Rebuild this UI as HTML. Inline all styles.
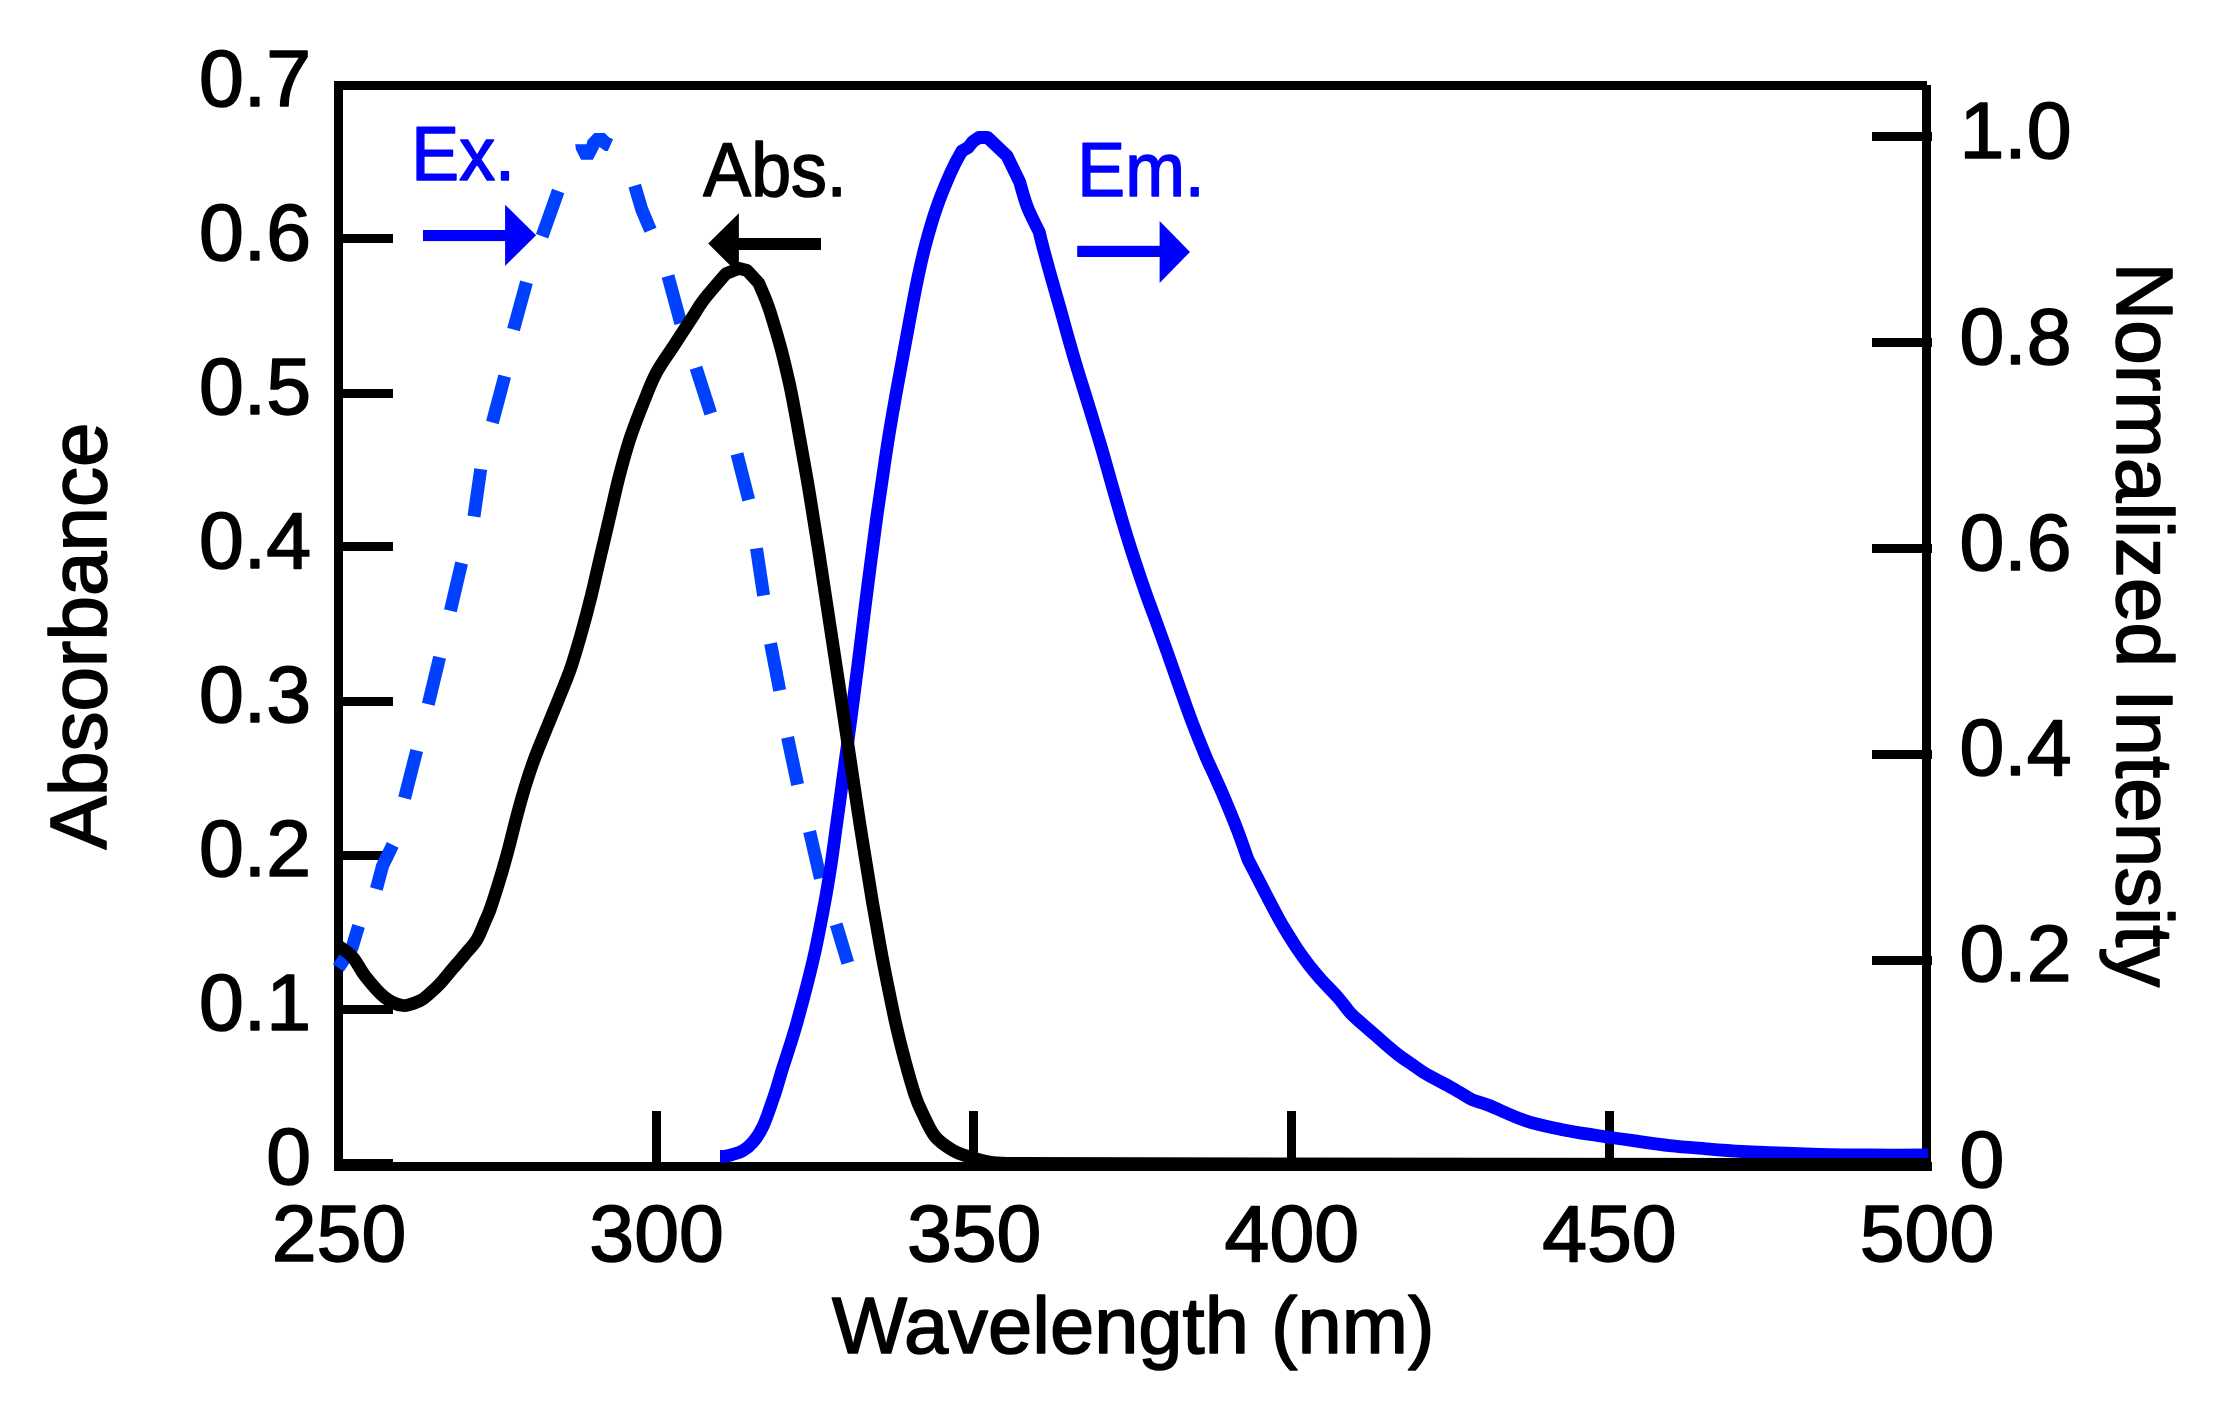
<!DOCTYPE html>
<html><head><meta charset="utf-8"><title>Absorbance / Excitation / Emission spectra</title>
<style>html,body{margin:0;padding:0;background:#fff}svg{display:block}text{font-family:"Liberation Sans",sans-serif}</style>
</head><body>
<svg width="2214" height="1403" viewBox="0 0 2214 1403">
<rect width="2214" height="1403" fill="#fff"/>
<g fill="#000" shape-rendering="crispEdges">
<rect x="334" y="81" width="1593" height="9"/>
<rect x="334" y="81" width="9" height="1090"/>
<rect x="1922" y="85" width="9" height="1086"/>
<rect x="334" y="1162" width="1598" height="9"/>
<rect x="334" y="1159" width="59" height="9"/>
<rect x="334" y="1005" width="59" height="9"/>
<rect x="334" y="851" width="59" height="9"/>
<rect x="334" y="697" width="59" height="9"/>
<rect x="334" y="542" width="59" height="9"/>
<rect x="334" y="389" width="59" height="9"/>
<rect x="334" y="234" width="59" height="9"/>
<rect x="1872" y="956" width="60" height="9"/>
<rect x="1872" y="750" width="60" height="9"/>
<rect x="1872" y="544" width="60" height="9"/>
<rect x="1872" y="338" width="60" height="9"/>
<rect x="1872" y="132" width="60" height="9"/>
<rect x="652" y="1111" width="9" height="55"/>
<rect x="969" y="1111" width="9" height="55"/>
<rect x="1287" y="1111" width="9" height="55"/>
<rect x="1605" y="1111" width="9" height="55"/>
</g>
<g fill="none" stroke="#0040ff" stroke-width="13.0" stroke-linejoin="round">
<path d="M358.6 925.8L352.1 947.5L338.3 967.8"/>
<path d="M392.7 844.9L382.5 866.0L376.4 889.0"/>
<path d="M416.7 750.5L404.6 798.1"/>
<path d="M439.6 657.2L428.3 704.3"/>
<path d="M461.6 563.1L450.4 610.7"/>
<path d="M480.7 469.1L474.0 516.5"/>
<path d="M504.7 376.2L492.4 422.5"/>
<path d="M526.5 282.2L513.5 329.6"/>
<path d="M558.2 191.0L542.1 236.2"/>
<path d="M634.7 185.6L641.8 209.6L650.5 230.2"/>
<path d="M668.0 276.0L680.8 323.2"/>
<path d="M696.0 367.8L710.7 413.5"/>
<path d="M737.0 453.9L748.7 499.9"/>
<path d="M756.5 548.4L763.6 595.5"/>
<path d="M770.6 643.5L779.7 690.6"/>
<path d="M787.6 737.4L797.6 784.6"/>
<path d="M809.6 831.5L820.4 878.4"/>
<path d="M836.2 924.4L847.8 962.8"/>
</g>
<polygon fill="#0040ff" points="575.2,144.2 586.5,144.2 587.5,140.3 594.4,133.1 604.7,133.1 609.2,137.6 613.1,139.2 607.8,150.9 605.1,150.9 599.5,146.9 592.9,159.8 581.1,159.8 576.0,149.8"/>
<path d="M720.0 1156.4C721.0 1156.4 724.0 1156.4 726.0 1156.1C728.0 1155.8 729.3 1155.5 732.1 1154.6C734.9 1153.7 739.2 1152.9 742.8 1150.8C746.3 1148.7 750.0 1145.8 753.4 1141.7C756.8 1137.6 759.5 1134.1 763.1 1126.2C766.7 1118.3 771.8 1103.0 774.8 1094.1C777.8 1085.2 779.0 1079.9 781.2 1072.8C783.4 1065.7 785.5 1059.8 788.1 1051.4C790.8 1043.0 793.9 1033.3 797.0 1022.4C800.0 1011.5 803.6 998.2 806.7 986.2C809.8 974.1 812.3 964.2 815.4 950.0C818.4 935.8 822.4 915.2 825.0 901.1C827.6 886.9 829.1 877.0 831.0 864.9C832.8 852.9 834.4 840.7 836.0 828.6C837.7 816.5 839.4 804.5 841.0 792.4C842.6 780.4 844.2 768.3 845.8 756.2C847.5 744.1 848.7 735.9 850.8 720.0C852.9 704.1 855.6 683.0 858.4 661.1C861.1 639.2 864.3 612.8 867.4 588.6C870.5 564.5 873.9 538.1 876.9 516.2C880.0 494.3 883.1 473.1 885.5 457.3C887.9 441.4 889.2 433.2 891.3 421.1C893.3 409.1 895.5 397.0 897.7 384.9C899.9 372.8 902.2 360.6 904.4 348.6C906.7 336.5 908.8 324.5 911.1 312.4C913.4 300.4 915.8 287.4 918.2 276.2C920.6 264.9 922.5 256.1 925.5 244.9C928.5 233.6 932.1 220.7 936.3 208.6C940.5 196.5 946.5 182.0 950.8 172.4C955.0 162.8 961.8 151.1 961.8 151.1L968.3 147.4L973.1 141.3L979.0 137.5L987.6 137.5L1007.0 155.9L1019.7 182.0C1019.7 182.0 1024.3 198.7 1026.6 205.0C1028.8 211.3 1031.1 215.4 1033.2 219.9C1035.3 224.4 1039.2 231.9 1039.2 231.9C1039.2 231.9 1041.6 241.9 1043.7 249.9C1045.8 257.9 1049.1 269.8 1051.9 279.8C1054.7 289.8 1057.7 299.7 1060.5 309.7C1063.3 319.7 1065.9 329.8 1068.8 339.7C1071.6 349.7 1073.8 357.4 1077.5 369.5C1081.2 381.6 1086.8 399.3 1090.8 412.5C1094.8 425.7 1098.1 436.6 1101.7 448.6C1105.2 460.7 1108.5 472.7 1111.9 484.8C1115.4 496.9 1118.8 509.1 1122.4 521.2C1126.0 533.2 1129.7 545.2 1133.6 557.3C1137.6 569.3 1142.4 583.6 1145.9 593.5C1149.3 603.3 1150.7 606.4 1154.2 616.2C1157.8 626.1 1163.0 640.4 1167.3 652.4C1171.6 664.5 1175.7 676.6 1180.0 688.6C1184.3 700.7 1188.7 713.3 1193.1 724.8C1197.5 736.4 1203.3 750.4 1206.4 757.9C1209.6 765.5 1208.8 763.0 1211.9 770.0C1215.1 777.0 1221.0 789.9 1225.2 799.9C1229.4 809.9 1233.6 819.9 1237.4 829.9C1241.2 839.9 1248.1 859.8 1248.1 859.8C1248.1 859.8 1258.4 879.7 1263.6 889.7C1268.8 899.7 1275.3 912.2 1279.4 919.7C1283.5 927.2 1285.3 929.8 1288.2 934.6C1291.2 939.4 1293.6 943.5 1297.0 948.5C1300.4 953.5 1304.6 959.4 1308.6 964.6C1312.6 969.7 1316.0 973.9 1321.0 979.5C1326.0 985.1 1333.6 992.5 1338.5 998.1C1343.4 1003.7 1346.6 1008.9 1350.6 1013.3C1354.6 1017.6 1358.7 1020.6 1362.7 1024.2C1366.7 1027.8 1370.7 1031.1 1374.8 1034.7C1378.9 1038.3 1383.2 1042.2 1387.2 1045.6C1391.2 1049.0 1394.7 1052.0 1398.7 1055.1C1402.7 1058.1 1407.3 1061.2 1411.4 1064.0C1415.4 1066.8 1419.0 1069.5 1423.1 1072.1C1427.1 1074.6 1431.5 1077.0 1435.6 1079.2C1439.7 1081.4 1443.5 1083.2 1447.5 1085.4C1451.5 1087.6 1455.6 1090.0 1459.6 1092.3C1463.6 1094.6 1466.9 1097.3 1471.7 1099.5C1476.5 1101.7 1479.7 1101.8 1488.6 1105.3C1497.5 1108.8 1512.8 1116.5 1524.9 1120.5C1537.0 1124.5 1549.0 1126.9 1561.1 1129.4C1573.2 1131.9 1585.2 1133.6 1597.3 1135.5C1609.4 1137.4 1621.5 1139.1 1633.5 1140.7C1645.6 1142.4 1657.6 1144.2 1669.6 1145.6C1681.7 1146.9 1693.9 1147.8 1706.0 1148.8C1718.1 1149.8 1730.1 1150.8 1742.1 1151.5C1754.2 1152.2 1765.5 1152.4 1778.4 1152.9C1791.4 1153.3 1804.7 1153.9 1820.0 1154.3C1835.3 1154.7 1852.0 1154.9 1870.0 1155.0C1888.0 1155.1 1918.3 1155.0 1928.0 1155.0" fill="none" stroke="#0000ff" stroke-width="12.8" stroke-linejoin="round"/>
<path d="M338.0 945.6C340.5 947.6 348.4 952.3 352.9 957.4C357.4 962.5 359.8 969.3 365.1 976.0C370.4 982.7 378.4 992.5 384.7 997.4C391.0 1002.3 396.9 1004.9 402.8 1005.5C408.7 1006.1 415.5 1002.6 419.8 1000.8C424.1 999.0 425.1 997.4 428.5 994.5C431.9 991.6 436.2 987.8 440.2 983.5C444.2 979.2 448.6 973.5 452.7 968.7C456.8 963.9 460.8 959.4 464.8 954.5C468.8 949.6 473.5 945.2 476.9 939.6C480.3 934.0 483.2 925.6 485.4 920.6C487.6 915.6 487.7 916.3 490.1 909.5C492.5 902.7 496.7 889.7 499.7 879.7C502.8 869.7 505.6 859.6 508.3 849.6C511.0 839.6 513.3 829.6 515.9 819.7C518.5 809.7 521.1 800.0 524.1 790.0C527.1 780.0 530.4 769.7 534.1 759.7C537.7 749.7 541.9 740.1 545.9 730.2C550.0 720.2 554.2 710.1 558.3 699.8C562.4 689.6 566.7 679.9 570.6 668.7C574.4 657.4 578.1 644.3 581.6 632.3C585.0 620.2 588.1 608.4 591.1 596.4C594.1 584.3 596.3 574.1 599.6 559.9C603.0 545.7 607.7 525.3 611.0 511.2C614.3 497.0 616.4 487.0 619.6 474.9C622.8 462.8 626.0 450.7 630.0 438.6C634.0 426.5 639.2 413.3 643.6 402.4C648.0 391.5 651.1 382.7 656.2 373.1C661.3 363.5 668.3 354.3 674.3 345.0C680.3 335.7 687.5 324.8 692.4 317.3C697.2 309.9 697.8 307.6 703.4 300.3C709.0 293.0 726.0 273.6 726.0 273.6L739.1 268.4L747.1 270.5L758.7 283.0C758.7 283.0 764.1 295.4 766.0 300.3C767.9 305.2 767.8 304.4 770.3 312.4C772.8 320.4 777.7 336.5 781.0 348.6C784.2 360.7 787.0 372.9 789.7 384.9C792.3 397.0 794.4 409.0 796.7 421.1C798.9 433.1 801.0 445.2 803.2 457.3C805.3 469.3 806.9 477.7 809.5 493.6C812.1 509.4 815.5 530.5 818.9 552.4C822.3 574.3 826.2 600.7 829.9 624.9C833.6 649.0 837.6 675.4 840.9 697.3C844.2 719.2 846.4 734.3 849.7 756.2C853.0 778.1 856.8 804.5 860.6 828.6C864.4 852.7 869.0 880.8 872.3 901.1C875.7 921.3 878.3 935.9 880.9 950.0C883.5 964.2 885.5 974.1 887.9 986.1C890.4 998.2 892.8 1010.4 895.5 1022.5C898.3 1034.6 901.1 1046.5 904.4 1058.5C907.6 1070.6 911.9 1085.8 914.9 1094.9C917.9 1104.0 919.0 1106.0 922.4 1113.0C925.8 1120.0 930.2 1130.6 935.4 1136.9C940.6 1143.2 948.1 1147.5 953.5 1150.8C958.9 1154.0 962.0 1154.5 968.0 1156.4C974.0 1158.3 982.7 1160.9 989.7 1162.1C996.7 1163.3 1006.6 1163.3 1010.0 1163.5L1929 1164.5" fill="none" stroke="#000" stroke-width="12.8" stroke-linejoin="round"/>
<g fill="#0000ff"><rect x="423" y="230" width="84" height="11.1"/><polygon points="505.1,204.7 505.1,265.9 536.1,235.3"/>
<rect x="1077.2" y="245.8" width="84" height="11.2"/><polygon points="1159.6,221 1159.6,282.9 1190,251.9"/></g>
<g fill="#000"><rect x="737" y="238" width="84" height="12"/><polygon points="738.9,213.2 738.9,274 708.2,243.6"/></g>
<g font-size="80.6" fill="#000" stroke="#000" stroke-width="1.6" stroke-linejoin="round">
<text x="311" y="1184.4" text-anchor="end">0</text>
<text x="311" y="1030.4" text-anchor="end">0.1</text>
<text x="311" y="876.4" text-anchor="end">0.2</text>
<text x="311" y="722.4" text-anchor="end">0.3</text>
<text x="311" y="568.4" text-anchor="end">0.4</text>
<text x="311" y="414.4" text-anchor="end">0.5</text>
<text x="311" y="260.4" text-anchor="end">0.6</text>
<text x="311" y="106.4" text-anchor="end">0.7</text>
<text x="1959.5" y="1187.2">0</text>
<text x="1959.5" y="981.3">0.2</text>
<text x="1959.5" y="775.4">0.4</text>
<text x="1959.5" y="569.5">0.6</text>
<text x="1959.5" y="363.6">0.8</text>
<text x="1959.5" y="157.7">1.0</text>
<text x="339.0" y="1261" text-anchor="middle">250</text>
<text x="656.6" y="1261" text-anchor="middle">300</text>
<text x="974.2" y="1261" text-anchor="middle">350</text>
<text x="1291.8" y="1261" text-anchor="middle">400</text>
<text x="1609.4" y="1261" text-anchor="middle">450</text>
<text x="1927.0" y="1261" text-anchor="middle">500</text>
</g>
<g font-size="80" fill="#000" stroke="#000" stroke-width="1.6" stroke-linejoin="round">
<text x="1133.2" y="1353.3" text-anchor="middle" font-size="79.5">Wavelength (nm)</text>
<text transform="translate(106.4 636) rotate(-90)" text-anchor="middle">Absorbance</text>
<text transform="translate(2116.7 624.8) rotate(90)" text-anchor="middle">Normalized Intensity</text>
</g>
<g font-size="75.5" stroke-width="1.6" stroke-linejoin="round">
<text transform="translate(411.3 180.3) scale(0.95 1)" fill="#0000ff" stroke="#0000ff">Ex.</text>
<text transform="translate(703.3 196.3) scale(0.95 1)" fill="#000" stroke="#000">Abs.</text>
<text transform="translate(1077.3 196.3) scale(0.95 1)" fill="#0000ff" stroke="#0000ff">Em.</text>
</g>
</svg></body></html>
